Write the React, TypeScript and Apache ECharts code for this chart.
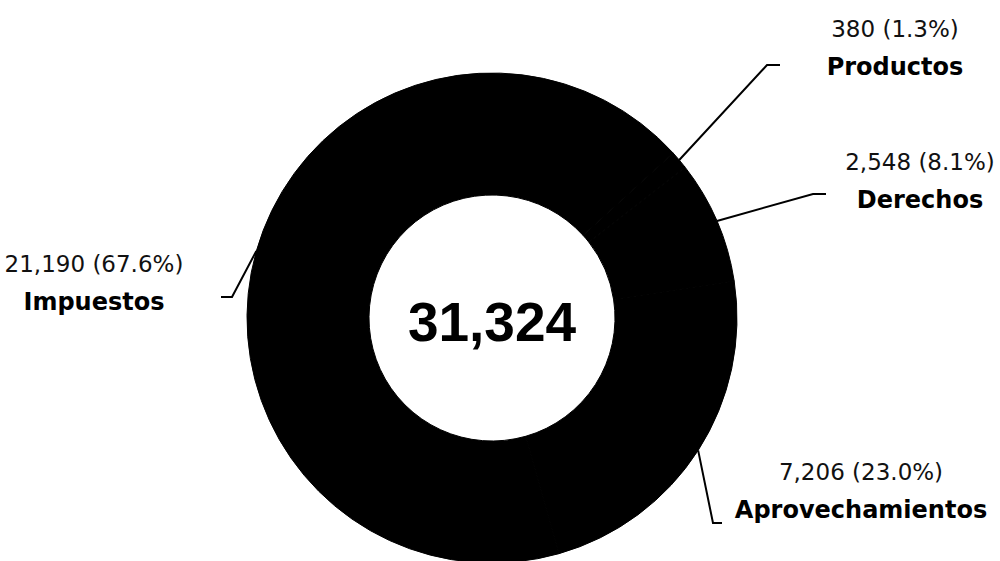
import React, { useEffect, useRef } from "react";
import * as echarts from "echarts";

const categories = ["Impuestos", "Aprovechamientos", "Derechos", "Productos"];
const values = [21190, 7206, 2548, 380];
const shares = ["67.6", "23.0", "8.1", "1.3"];

const fmt = (n: number) => n.toLocaleString("en-US");

// label layout (centre of each two-line label block and connector bend/end)
const labelPlacement: Record<string, { x: number; y: number; bend: number[]; end: number[] }> = {
  Impuestos: { x: 94, y: 283, bend: [232, 297], end: [221, 297] },
  Aprovechamientos: { x: 861, y: 491, bend: [713, 523], end: [722, 523] },
  Derechos: { x: 920, y: 181, bend: [813, 194], end: [826, 194] },
  Productos: { x: 895, y: 48, bend: [767, 65], end: [780, 65] },
};

const FONT = "'DejaVu Sans', 'Noto Sans', sans-serif";

export default function App() {
  const ref = useRef<HTMLDivElement>(null);
  useEffect(() => {
    if (!ref.current) return;
    const chart = echarts.init(ref.current, undefined, { renderer: "svg" });
    const total = values.reduce((a, b) => a + b, 0);
    chart.setOption({
      animation: false,
      backgroundColor: "#ffffff",
      series: [
        {
          type: "pie",
          center: [492, 318],
          radius: [123, 245],
          startAngle: 42.35,
          clockwise: false,
          avoidLabelOverlap: false,
          itemStyle: { color: "#000000", borderColor: "#000000", borderWidth: 1 },
          emphasis: { disabled: true },
          label: {
            show: true,
            position: "outside",
            color: "#000",
            formatter: (p: any) =>
              `{v|${fmt(values[p.dataIndex])} (${shares[p.dataIndex]}%)}\n{n|${categories[p.dataIndex]}}`,
            rich: {
              v: { fontSize: 23, fontFamily: FONT, color: "#111", lineHeight: 38, align: "center" },
              n: { fontSize: 24, fontFamily: FONT, fontWeight: "bold", color: "#000", lineHeight: 38, align: "center" },
            },
          },
          labelLine: {
            show: true,
            length: 20,
            length2: 10,
            lineStyle: { color: "#000", width: 2 },
          },
          labelLayout: (params: any) => {
            const name = categories[params.dataIndex];
            const pl = labelPlacement[name];
            const pts = params.labelLinePoints;
            const out: any = { x: pl.x, y: pl.y, align: "center", verticalAlign: "middle" };
            if (pts && pts.length) {
              out.labelLinePoints = [pts[0], pl.bend, pl.end];
            }
            return out;
          },
          data: categories.map((c, i) => ({ name: c, value: values[i] })),
        },
      ],
      graphic: [
        {
          type: "text",
          x: 492,
          y: 322,
          style: {
            text: fmt(total),
            fill: "#000",
            font: "bold 55px 'Liberation Sans', Arial, sans-serif",
            align: "center",
            verticalAlign: "middle",
            textAlign: "center",
            textVerticalAlign: "middle",
          },
        },
      ],
    });
    return () => chart.dispose();
  }, []);
  return (
    <div
      ref={ref}
      style={{ position: "absolute", left: 0, top: 0, width: 1000, height: 561 }}
    />
  );
}
